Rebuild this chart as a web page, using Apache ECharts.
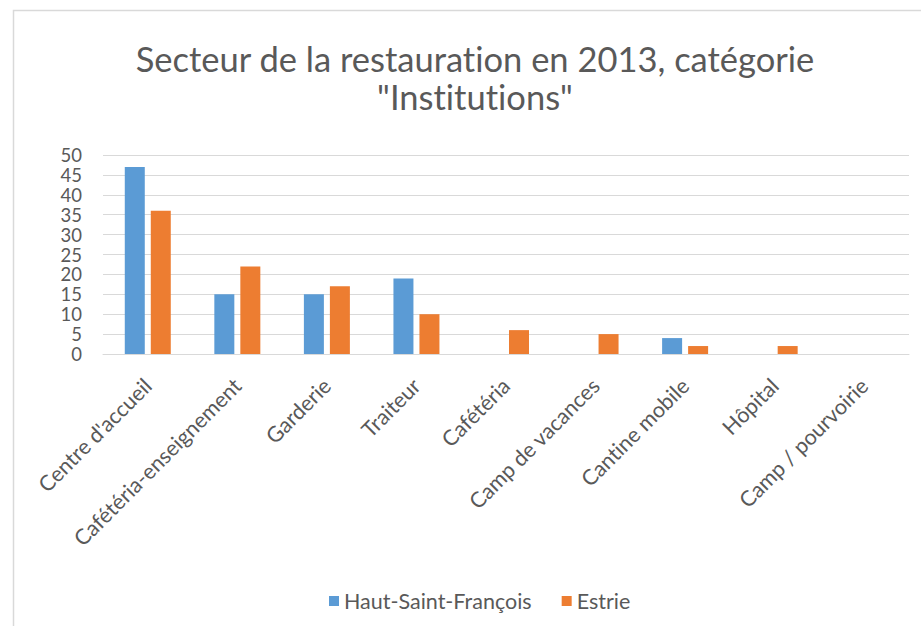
<!DOCTYPE html>
<html>
<head>
<meta charset="utf-8">
<script src="https://cdn.jsdelivr.net/npm/echarts@6/dist/echarts.min.js"></script>
<style>
  html, body { margin: 0; padding: 0; background: #fff; }
  #chart { width: 921px; height: 626px; }
  #chart text { font-variant-ligatures: none; }
</style>
</head>
<body>
<div id="chart"></div>
<script>
// Restaurant establishments by category, 2013
const categories = [
  "Centre d'accueil", "Cafétéria-enseignement", "Garderie", "Traiteur",
  "Cafétéria", "Camp de vacances", "Cantine mobile", "Hôpital", "Camp / pourvoirie"
];
const hautSaintFrancois = [47, 15, 15, 19, 0, 0, 4, 0, 0];
const estrie = [36, 22, 17, 10, 6, 5, 2, 2, 0];
const seriesNames = ["Haut-Saint-François", "Estrie"];
const yTicks = { min: 0, max: 50, interval: 5 };

const font = 'Lato, "Open Sans", sans-serif';
const textGray = '#595959';

const chart = echarts.init(document.getElementById('chart'), null, { renderer: 'svg' });
chart.setOption({
  animation: false,
  backgroundColor: '#ffffff',
  graphic: [{
    type: 'rect',
    shape: { x: 13.5, y: 10.5, width: 940, height: 640 },
    style: { fill: 'none', stroke: '#d9d9d9', lineWidth: 1.5 },
    silent: true
  }],
  title: {
    text: 'Secteur de la restauration en 2013, catégorie\n"Institutions"',
    left: 470,
    top: 34,
    textAlign: 'center',
    textStyle: {
      fontFamily: font,
      fontSize: 34.5,
      fontWeight: 'normal',
      color: textGray,
      lineHeight: 38
    }
  },
  legend: {
    data: seriesNames,
    left: 324,
    top: 585,
    itemWidth: 10,
    itemHeight: 10,
    itemGap: 30,
    icon: 'rect',
    textStyle: { fontFamily: font, fontSize: 21.5, color: textGray }
  },
  grid: { left: 103, right: 12, top: 155, bottom: 272, containLabel: false },
  xAxis: {
    type: 'category',
    data: categories,
    axisLine: { lineStyle: { color: '#d9d9d9', width: 1 } },
    axisTick: { show: false },
    axisLabel: {
      rotate: 45,
      interval: 0,
      margin: 28,
      fontFamily: font,
      fontSize: 21.5,
      color: textGray
    }
  },
  yAxis: {
    type: 'value',
    min: yTicks.min,
    max: yTicks.max,
    interval: yTicks.interval,
    axisLine: { show: false },
    axisTick: { show: false },
    splitLine: { lineStyle: { color: '#d9d9d9', width: 1 } },
    axisLabel: {
      fontFamily: font,
      fontSize: 18.5,
      lineHeight: 18,
      color: textGray,
      margin: 21,
      showMinLabel: true,
      showMaxLabel: true,
      hideOverlap: false
    }
  },
  series: [
    {
      name: seriesNames[0],
      type: 'bar',
      data: hautSaintFrancois,
      barWidth: 20,
      barGap: '30%',
      itemStyle: { color: '#5b9bd5' }
    },
    {
      name: seriesNames[1],
      type: 'bar',
      data: estrie,
      barWidth: 20,
      barGap: '30%',
      itemStyle: { color: '#ed7d31' }
    }
  ]
});
</script>
</body>
</html>
